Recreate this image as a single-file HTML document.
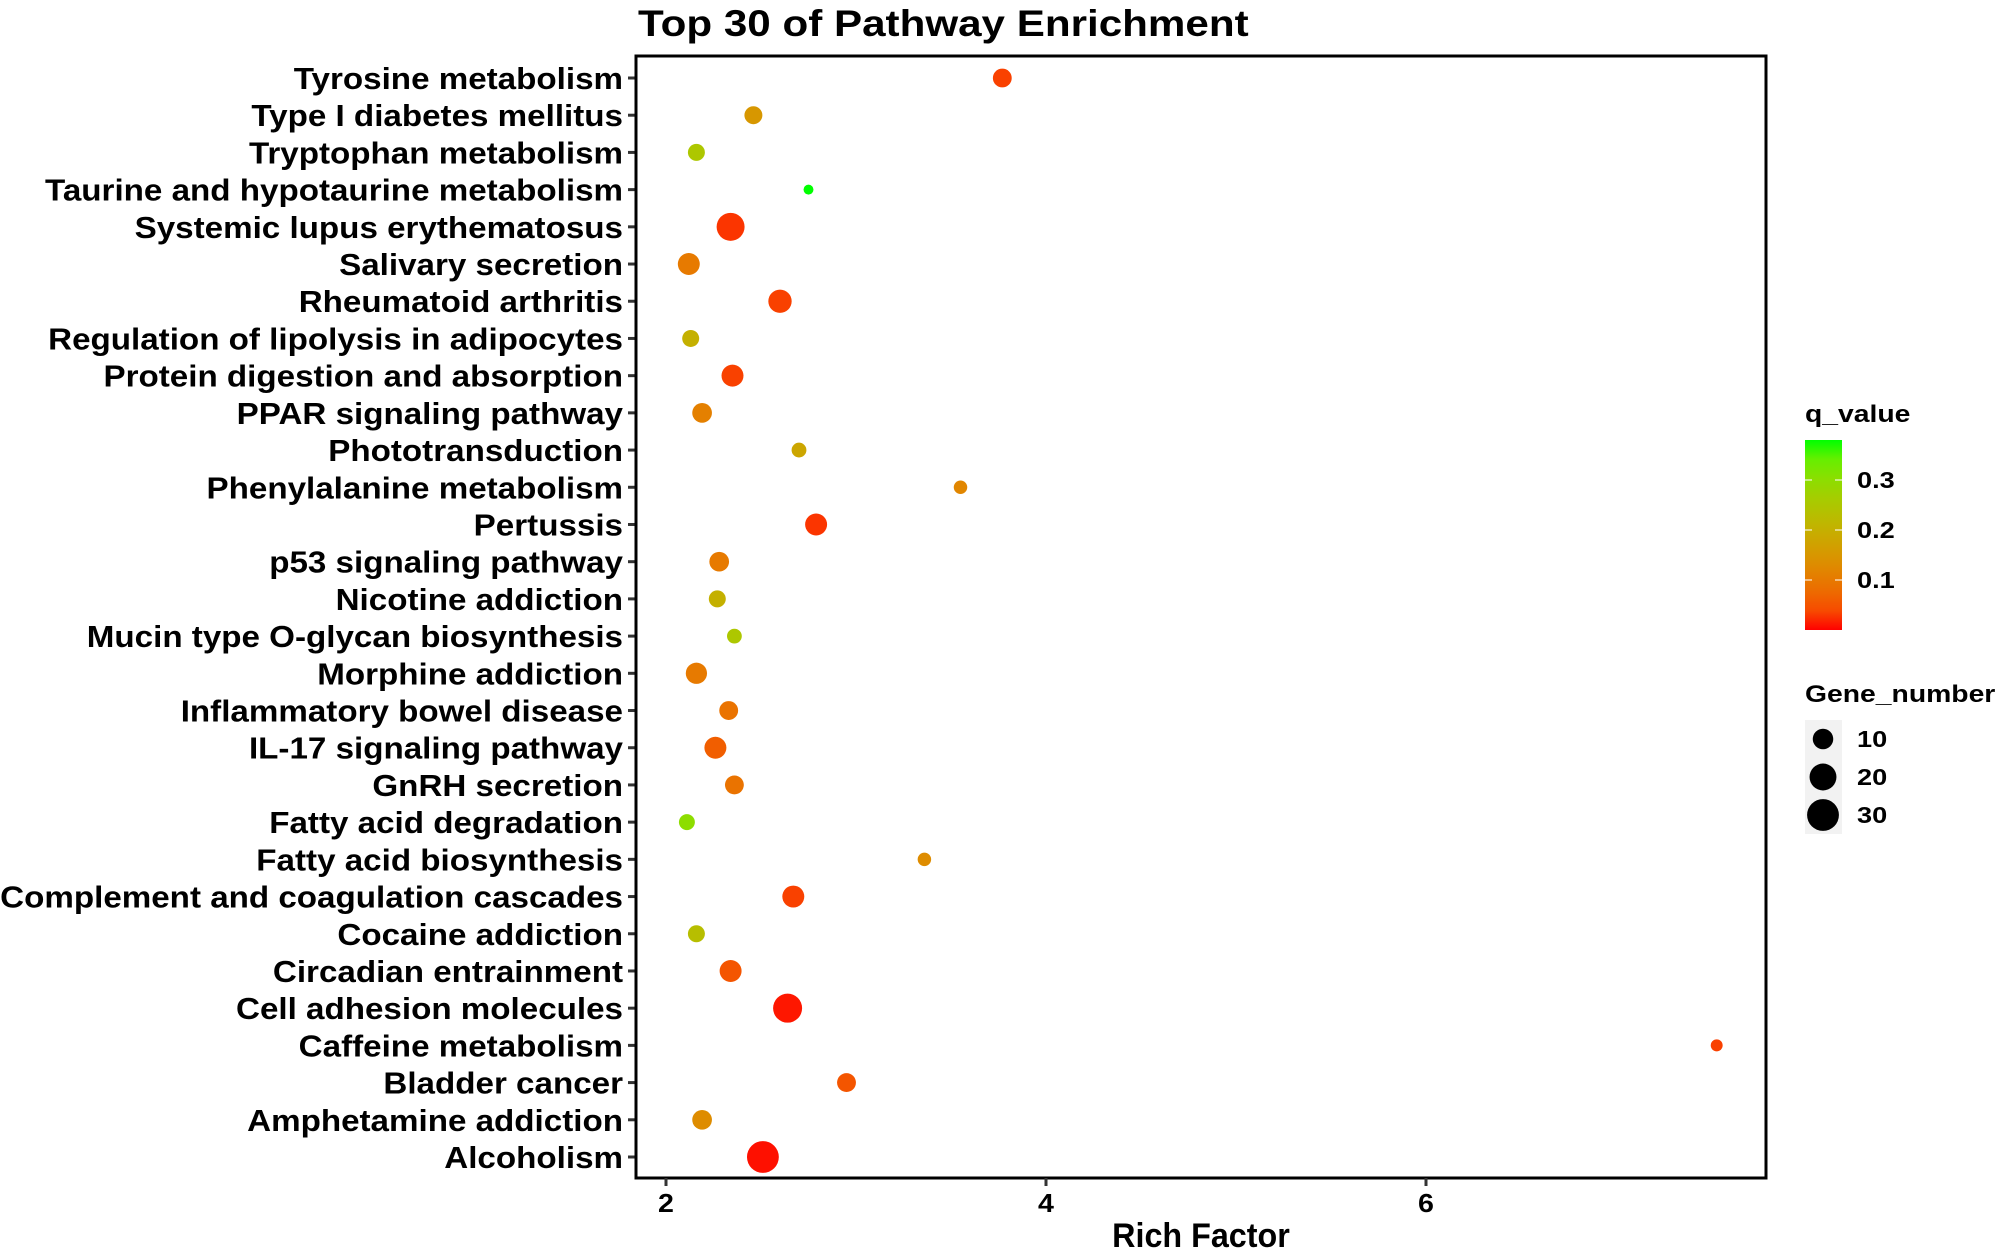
<!DOCTYPE html>
<html><head><meta charset="utf-8"><style>
html,body{margin:0;padding:0;background:#fff}
svg{display:block;font-family:"Liberation Sans",sans-serif;font-weight:bold}
</style></head><body>
<svg id="chart" width="2000" height="1250" viewBox="0 0 2000 1250" xmlns="http://www.w3.org/2000/svg">
<defs><linearGradient id="qgrad" x1="0" y1="1" x2="0" y2="0"></linearGradient></defs>
<text x="0" y="0" font-size="37" fill="#000" transform="translate(638,36) scale(1.14,1)">Top 30 of Pathway Enrichment</text>
<g id="yLabels"></g>
<g id="points"></g>
<rect x="636" y="56" width="1130" height="1122" fill="none" stroke="#000" stroke-width="3"/>
<g id="xAxis"></g>
<text x="0" y="0" font-size="34" text-anchor="middle" transform="translate(1201,1247) scale(0.95,1)">Rich Factor</text>
<g id="legend"></g>
</svg>
<script>
const pathways=["Tyrosine metabolism","Type I diabetes mellitus","Tryptophan metabolism","Taurine and hypotaurine metabolism","Systemic lupus erythematosus","Salivary secretion","Rheumatoid arthritis","Regulation of lipolysis in adipocytes","Protein digestion and absorption","PPAR signaling pathway","Phototransduction","Phenylalanine metabolism","Pertussis","p53 signaling pathway","Nicotine addiction","Mucin type O-glycan biosynthesis","Morphine addiction","Inflammatory bowel disease","IL-17 signaling pathway","GnRH secretion","Fatty acid degradation","Fatty acid biosynthesis","Complement and coagulation cascades","Cocaine addiction","Circadian entrainment","Cell adhesion molecules","Caffeine metabolism","Bladder cancer","Amphetamine addiction","Alcoholism"];
const richFactor=[3.77,2.46,2.16,2.75,2.34,2.12,2.60,2.13,2.35,2.19,2.70,3.55,2.79,2.28,2.27,2.36,2.16,2.33,2.26,2.36,2.11,3.36,2.67,2.16,2.34,2.64,7.53,2.95,2.19,2.51];
const geneNumber=[8,7,6,1,22,12,14,6,12,9,4,3,12,9,6,4,11,8,12,8,5,3,12,6,12,24,2,8,9,30];
const qValue=[0.03,0.15,0.25,0.38,0.02,0.10,0.03,0.20,0.03,0.11,0.18,0.12,0.02,0.10,0.20,0.25,0.10,0.09,0.06,0.09,0.30,0.13,0.03,0.23,0.05,0.005,0.03,0.05,0.13,0.003];
const xTicks=[2,4,6];
const qTicks=[0.1,0.2,0.3];
const sizeKeys=[10,20,30];

const NS="http://www.w3.org/2000/svg";
function mk(t,a,p){const e=document.createElementNS(NS,t);for(const k in a)e.setAttribute(k,a[k]);p.appendChild(e);return e;}
const xScale=v=>666+(v-2)*190;
const yScale=i=>78+i*(1157-78)/29;
const rScale=n=>2.5+2.45*Math.sqrt(n);
const qMax=0.38,qTop=440,qBot=630;
const qScale=q=>qBot-(q/qMax)*(qBot-qTop);
function s2l(c){c/=255;return c<=0.04045?c/12.92:Math.pow((c+0.055)/1.055,2.4);}
function l2s(c){c=c<=0.0031308?12.92*c:1.055*Math.pow(c,1/2.4)-0.055;return Math.max(0,Math.min(255,Math.round(c*255)));}
function toLab(r,g,b){r=s2l(r);g=s2l(g);b=s2l(b);let X=(0.4124*r+0.3576*g+0.1805*b)/0.95047,Y=0.2126*r+0.7152*g+0.0722*b,Z=(0.0193*r+0.1192*g+0.9505*b)/1.08883;const f=t=>t>0.008856?Math.cbrt(t):7.787*t+16/116;X=f(X);Y=f(Y);Z=f(Z);return[116*Y-16,500*(X-Y),200*(Y-Z)];}
function fromLab(L,a,b){let Y=(L+16)/116,X=a/500+Y,Z=Y-b/200;const fi=t=>t*t*t>0.008856?t*t*t:(t-16/116)/7.787;X=fi(X)*0.95047;Y=fi(Y);Z=fi(Z)*1.08883;const r=3.2406*X-1.5372*Y-0.4986*Z,g=-0.9689*X+1.8758*Y+0.0415*Z,bb=0.0557*X-0.2040*Y+1.0570*Z;return`rgb(${l2s(r)},${l2s(g)},${l2s(bb)})`;}
const LR=toLab(255,0,0),LG=toLab(0,255,0);
function qColor(q){const t=Math.max(0,Math.min(1,q/qMax));return fromLab(LR[0]+(LG[0]-LR[0])*t,LR[1]+(LG[1]-LR[1])*t,LR[2]+(LG[2]-LR[2])*t);}

const yl=document.getElementById('yLabels');
pathways.forEach((p,i)=>{
  const y=yScale(i);
  const t=mk('text',{x:0,y:0,'font-size':31,'text-anchor':'end',transform:`translate(623,${y+11}) scale(1.07,1)`},yl);
  t.textContent=p;
  
  
  const tk=mk('line',{x1:628,x2:636,y1:y,y2:y,stroke:'#333','stroke-width':3},yl);
  
  
});
const pg=document.getElementById('points');
pathways.forEach((p,i)=>{
  const c=mk('circle',{cx:xScale(richFactor[i]),cy:yScale(i),r:rScale(geneNumber[i]),fill:qColor(qValue[i])},pg);
  
  
});
const xa=document.getElementById('xAxis');
xTicks.forEach(v=>{
  const x=xScale(v);
  const l=mk('line',{x1:x,x2:x,y1:1178,y2:1186,stroke:'#333','stroke-width':3},xa);
  
  
  const t=mk('text',{x:0,y:0,'font-size':26,'text-anchor':'middle',transform:`translate(${x},1212) scale(1.1,1)`},xa);
  t.textContent=v;
  
  
});
const lg=document.getElementById('legend');
const grad=document.getElementById('qgrad');
for(let k=0;k<=10;k++){mk('stop',{offset:(k*10)+'%','stop-color':qColor(qMax*k/10)},grad);}
const qt=mk('text',{x:0,y:0,'font-size':24,transform:'translate(1805,422) scale(1.18,1)'},lg);qt.textContent='q_value';


const bar=mk('rect',{x:1805,y:qTop,width:37,height:qBot-qTop,fill:'url(#qgrad)'},lg);


qTicks.forEach(q=>{
  const y=qScale(q);
  mk('line',{x1:1805,x2:1812,y1:y,y2:y,stroke:'#fff','stroke-width':1.5,opacity:0.7},lg);
  mk('line',{x1:1835,x2:1842,y1:y,y2:y,stroke:'#fff','stroke-width':1.5,opacity:0.7},lg);
  const t=mk('text',{x:0,y:0,'font-size':23,transform:`translate(1857,${y+8}) scale(1.18,1)`},lg);t.textContent=q;
  
  
});
const gt=mk('text',{x:0,y:0,'font-size':24,transform:'translate(1805,702) scale(1.18,1)'},lg);gt.textContent='Gene_number';


const keyY=[739,777,815];
sizeKeys.forEach((n,k)=>{
  const cy=keyY[k];
  mk('rect',{x:1805,y:cy-19,width:37,height:38,fill:'#f2f2f2'},lg);
  const c=mk('circle',{cx:1823,cy:cy,r:rScale(n),fill:'#000'},lg);
  
  
  const t=mk('text',{x:0,y:0,'font-size':23,transform:`translate(1857,${cy+8}) scale(1.18,1)`},lg);t.textContent=n;
  
  
});
</script>
</body></html>
